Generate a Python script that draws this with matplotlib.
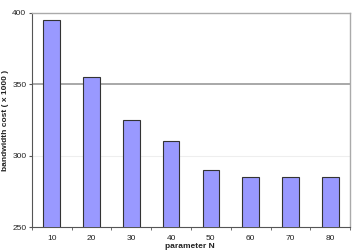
import matplotlib.pyplot as plt
import numpy as np

plt.rcParams['font.family'] = ['Liberation Sans', 'DejaVu Sans']

categorias = ['10', '20', '30', '40', '50', '60', '70', '80']
custo = [395, 355, 325, 310, 290, 285, 285, 285]

fig = plt.figure(figsize=(3.54, 2.52), dpi=100)
ax = fig.add_axes([0.090, 0.099, 0.899, 0.850])

x = np.arange(len(categorias))
ax.bar(x, custo, width=0.42, color='#9999ff', edgecolor='#333333', linewidth=0.8, zorder=3)

ax.set_ylim(250, 400)
ax.set_xlim(-0.5, len(categorias) - 0.5)
ax.set_yticks([250, 300, 350, 400])
ax.set_xticks(x)
ax.set_xticklabels(categorias)
ax.set_xticks(np.arange(len(categorias) + 1) - 0.5, minor=True)
ax.tick_params(axis='x', which='major', length=0, pad=6, labelsize=6, labelcolor='#222222')
ax.tick_params(axis='x', which='minor', length=2.5, direction='out', color='#555555')
ax.tick_params(axis='y', length=2.5, direction='out', labelsize=6, color='#555555', pad=1.5,
               labelcolor='#222222')

ax.axhline(350, color='#999999', linewidth=1.2, zorder=1)
ax.axhline(300, color='#eeeeee', linewidth=0.8, zorder=1)

for lado in ['top', 'right']:
    ax.spines[lado].set_color('#aaaaaa')
    ax.spines[lado].set_linewidth(1.0)
for lado in ['left', 'bottom']:
    ax.spines[lado].set_color('#555555')
    ax.spines[lado].set_linewidth(0.8)

fig.text(0.537, 0.02, 'parameter N', fontsize=6, fontweight='bold', ha='center', va='center',
         color='#222222')
fig.text(0.016, 0.524, 'bandwidth cost ( x 1000 )', fontsize=6, fontweight='bold',
         rotation=90, ha='center', va='center', color='#222222')

fig.savefig('out.png', dpi=100)
